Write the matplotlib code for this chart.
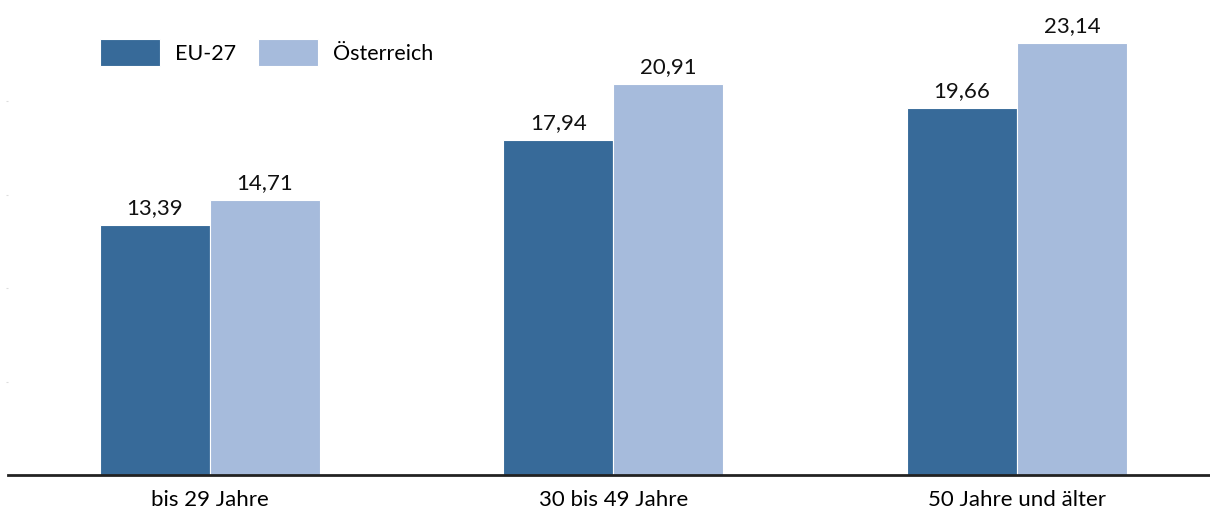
import numpy as np
import matplotlib.pyplot as plt

# daten
gruppen = ["bis 29 Jahre", "30 bis 49 Jahre", "50 Jahre und älter"]
eu27 = [13.39, 17.94, 19.66]
oesterreich = [14.71, 20.91, 23.14]
serien = ["EU-27", "Österreich"]

farbe_eu = "#376a99"
farbe_at = "#a6bbdc"

plt.rcParams['font.family'] = ['Lato', 'DejaVu Sans']
fs = 16

fig = plt.figure(figsize=(12.1, 5.15), dpi=100)
ax = fig.add_axes([8 / 1210, 40 / 515, 1 - 8 / 1210, 467 / 515])

x = np.arange(len(gruppen))
b = 0.2726
r1 = ax.bar(x - b / 2, eu27, b, color=farbe_eu, edgecolor="white", linewidth=0.8, label=serien[0])
r2 = ax.bar(x + b / 2, oesterreich, b, color=farbe_at, edgecolor="white", linewidth=0.8, label=serien[1])

for rects in (r1, r2):
    for rect in rects:
        h = rect.get_height()
        ax.annotate(f"{h:.2f}".replace(".", ","), (rect.get_x() + rect.get_width() / 2, h),
                    xytext=(0, 5), textcoords="offset points", ha="center", va="bottom",
                    fontsize=fs, color="#111111")

ax.set_xlim(-0.5, 2.478)
ax.set_ylim(0, 25)
ax.set_xticks(x)
ax.set_xticklabels(gruppen, fontsize=fs)
ax.tick_params(axis="x", length=0, pad=11)
ax.set_yticks([5, 10, 15, 20])
ax.set_yticklabels([])
ax.tick_params(axis="y", length=1.5, color="#dddddd")
for s in ("top", "right"):
    ax.spines[s].set_visible(False)
ax.spines["left"].set_visible(False)
ax.spines["bottom"].set_linewidth(2)
ax.spines["bottom"].set_color("#222222")

ax.legend(loc="upper left", bbox_to_anchor=(100 / 1210, 1 - 39 / 515), bbox_transform=fig.transFigure,
          ncol=2, frameon=False, fontsize=15.5, handlelength=2.8, handleheight=1.55,
          handletextpad=0.7, columnspacing=1.0, borderpad=0, borderaxespad=0)

fig.savefig("out.png", dpi=100)
